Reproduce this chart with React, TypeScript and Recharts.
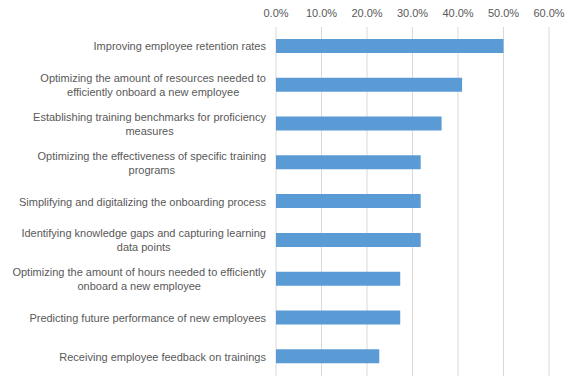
import {Bar, BarChart, CartesianGrid, XAxis, YAxis} from 'recharts';

const categories = [
  'Improving employee retention rates',
  'Optimizing the amount of resources needed to\nefficiently onboard a new employee',
  'Establishing training benchmarks for proficiency\nmeasures',
  'Optimizing the effectiveness of specific training\nprograms',
  'Simplifying and digitalizing the onboarding process',
  'Identifying knowledge gaps and capturing learning\ndata points',
  'Optimizing the amount of hours needed to efficiently\nonboard a new employee',
  'Predicting future performance of new employees',
  'Receiving employee feedback on trainings',
];
const shares = [50.0, 40.9, 36.4, 31.8, 31.8, 31.8, 27.3, 27.3, 22.7];
const pctTicks = [0, 10, 20, 30, 40, 50, 60];

const data = categories.map((name, i) => ({name, value: shares[i]}));

const FONT = '"Liberation Sans", Arial, sans-serif';
const TEXT = '#595959';

let ctx: CanvasRenderingContext2D | null = null;
function measure(s: string) {
  if (!ctx) ctx = document.createElement('canvas').getContext('2d');
  if (!ctx) return s.length * 5.5;
  ctx.font = '11px "Liberation Sans"';
  return ctx.measureText(s).width;
}

function CategoryTick(props: any) {
  const {y, payload} = props;
  const lines: string[] = String(payload.value).split('\n');
  const w = Math.max(...lines.map(measure));
  const cx = 266 - w / 2;
  return (
    <text x={cx} y={y} textAnchor="middle" fill={TEXT} fontSize={11} fontFamily={FONT}>
      {lines.map((l, i) => (
        <tspan key={i} x={cx} y={y + (i - (lines.length - 1) / 2) * 14 + 4}>
          {l}
        </tspan>
      ))}
    </text>
  );
}

function PctTick(props: any) {
  const {x, payload} = props;
  return (
    <text x={x} y={17} textAnchor="middle" fill={TEXT} fontSize={11} fontFamily={FONT}>
      {payload.value.toFixed(1) + '%'}
    </text>
  );
}

export default function App() {
  return (
    <div style={{position: 'absolute', left: 0, top: 0, background: '#fff'}}>
      <BarChart
        width={577}
        height={386}
        data={data}
        layout="vertical"
        margin={{top: 0, right: 28, bottom: 10, left: 0}}
      >
        <CartesianGrid horizontal={false} stroke="#d9d9d9" />
        <XAxis
          type="number"
          orientation="top"
          domain={[0, 60]}
          ticks={pctTicks}
          height={27}
          axisLine={false}
          tickLine={false}
          tick={<PctTick />}
        />
        <YAxis
          type="category"
          dataKey="name"
          width={276}
          axisLine={false}
          tickLine={false}
          tick={<CategoryTick />}
          interval={0}
        />
        <Bar dataKey="value" fill="#5b9bd5" barSize={14} isAnimationActive={false} />
      </BarChart>
    </div>
  );
}
